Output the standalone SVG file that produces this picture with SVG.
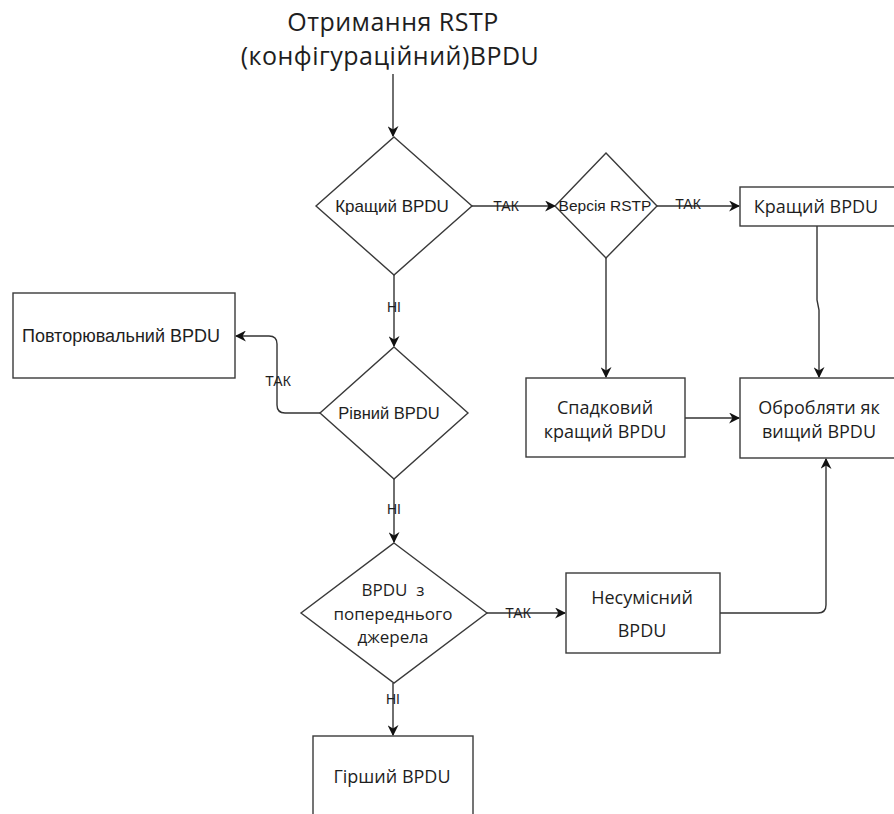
<svg xmlns="http://www.w3.org/2000/svg" width="894" height="814" viewBox="0 0 894 814">
  <style>
    .shape { fill: #ffffff; stroke: #3a3a3a; stroke-width: 1.4; }
    .edge { fill: none; stroke: #333333; stroke-width: 1.4; }
    .os { font-family: "Open Sans", "Noto Sans", sans-serif; font-size: 18px; fill: #1e1e1e; text-anchor: middle; }
    .title { font-family: "Open Sans", "Noto Sans", sans-serif; font-size: 25px; letter-spacing: 0.5px; fill: #1e1e1e; text-anchor: middle; }
    .ar { font-family: "Liberation Sans", Arial, sans-serif; fill: #1e1e1e; text-anchor: middle; }
    .lbl { font-family: "Liberation Sans", Arial, sans-serif; font-size: 14px; fill: #1e1e1e; text-anchor: middle; }
  </style>
  <defs>
    <marker id="arrow" viewBox="0 0 10 10" refX="9" refY="5" markerWidth="11" markerHeight="11" markerUnits="userSpaceOnUse" orient="auto">
      <path d="M0,0 L10,5 L0,10 L3,5 Z" fill="#111111"/>
    </marker>
  </defs>
  <rect width="894" height="814" fill="#ffffff"/>

  <!-- connectors -->
  <g id="connectors">
    <path class="edge" d="M393,74 L393,136" marker-end="url(#arrow)"/>
    <path class="edge" d="M472,206 L555,206" marker-end="url(#arrow)"/>
    <path class="edge" d="M657,206 L739,206" marker-end="url(#arrow)"/>
    <path class="edge" d="M817,226 L817,300 L819,310 L819,377" marker-end="url(#arrow)"/>
    <path class="edge" d="M606,258 L606,377" marker-end="url(#arrow)"/>
    <path class="edge" d="M685,418 L739,418" marker-end="url(#arrow)"/>
    <path class="edge" d="M394,275 L394,346" marker-end="url(#arrow)"/>
    <path class="edge" d="M320,413 L285,413 Q277,413 277,405 L277,344 Q277,336 269,336 L236,336" marker-end="url(#arrow)"/>
    <path class="edge" d="M394,479 L394,542" marker-end="url(#arrow)"/>
    <path class="edge" d="M487,613 L565,613" marker-end="url(#arrow)"/>
    <path class="edge" d="M720,613 L818,613 Q826,613 826,605 L826,459" marker-end="url(#arrow)"/>
    <path class="edge" d="M393,683 L393,735" marker-end="url(#arrow)"/>

    <!-- edge labels -->
    <text class="lbl" x="506" y="211">ТАК</text>
    <text class="lbl" x="688" y="209">ТАК</text>
    <text class="lbl" x="394" y="312">НІ</text>
    <text class="lbl" x="278" y="386">ТАК</text>
    <text class="lbl" x="394" y="514">НІ</text>
    <text class="lbl" x="518" y="618">ТАК</text>
    <text class="lbl" x="393" y="704">НІ</text>
  </g>

  <!-- title -->
  <g id="title">
    <text class="title" x="393" y="31">Отримання RSTP</text>
    <text class="title" x="390" y="65">(конфігураційний)BPDU</text>
  </g>

  <g id="better-bpdu-check">
    <polygon class="shape" points="394,137 472,206 394,275 316,206"/>
    <text class="ar" x="392" y="212" font-size="17">Кращий BPDU</text>
  </g>

  <g id="rstp-version-check">
    <polygon class="shape" points="606,153 657,206 606,258 555,206"/>
    <text class="ar" x="605" y="211" font-size="15.5">Версія RSTP</text>
  </g>

  <g id="better-bpdu">
    <rect class="shape" x="740" y="187" width="160" height="39"/>
    <text class="os" x="816" y="213">Кращий BPDU</text>
  </g>

  <g id="process-as-superior">
    <rect class="shape" x="740" y="378" width="160" height="80"/>
    <text class="os" x="819" y="414">Обробляти як</text>
    <text class="os" x="819" y="438">вищий BPDU</text>
  </g>

  <g id="legacy-better-bpdu">
    <rect class="shape" x="526" y="378" width="159" height="79"/>
    <text class="os" x="605" y="414">Спадковий</text>
    <text class="os" x="605" y="438">кращий BPDU</text>
  </g>

  <g id="repeated-bpdu">
    <rect class="shape" x="13" y="293" width="222" height="85"/>
    <text class="ar" x="121" y="342" font-size="18">Повторювальний BPDU</text>
  </g>

  <g id="equal-bpdu-check">
    <polygon class="shape" points="394,347 468,413 394,479 320,413"/>
    <text class="ar" x="389" y="419" font-size="16.5">Рівний BPDU</text>
  </g>

  <g id="previous-source-check">
    <polygon class="shape" points="394,543 487,613 394,683 301,613"/>
    <text class="os" x="393" y="596" style="font-size:17px" xml:space="preserve">BPDU  з</text>
    <text class="os" x="393" y="619.5" style="font-size:17px">попереднього</text>
    <text class="os" x="393" y="643" style="font-size:17px">джерела</text>
  </g>

  <g id="incompatible-bpdu">
    <rect class="shape" x="566" y="573" width="154" height="80"/>
    <text class="os" x="642" y="604">Несумісний</text>
    <text class="os" x="642" y="637">BPDU</text>
  </g>

  <g id="worse-bpdu">
    <rect class="shape" x="313" y="736" width="160" height="90"/>
    <text class="os" x="392" y="783">Гірший BPDU</text>
  </g>
</svg>
